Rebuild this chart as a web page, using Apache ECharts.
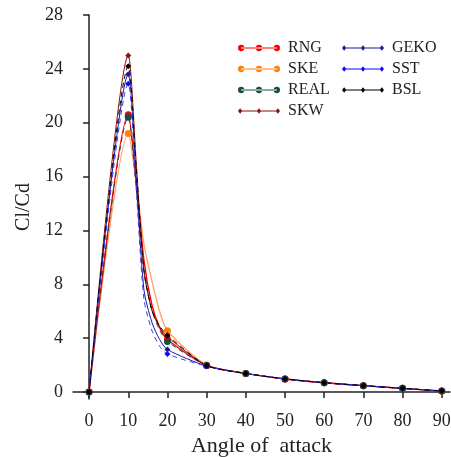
<!DOCTYPE html>
<html>
<head>
<meta charset="utf-8">
<script src="https://cdn.jsdelivr.net/npm/echarts@6/dist/echarts.min.js"></script>
<style>
  html, body { margin: 0; padding: 0; background: #fff; }
  #chart { width: 451px; height: 457px; }
</style>
</head>
<body>
<div id="chart"></div>
<script>
// angle of attack (curve read at extra angles between 10 and 20, markers only every 10)
var angles = [0, 10, 12, 14, 16, 18, 20, 30, 40, 50, 60, 70, 80, 90];
var markAngles = [0, 10, 20, 30, 40, 50, 60, 70, 80, 90];

// Cl/Cd values per turbulence model
var rng  = [0, 20.6, 15.8, 9.8, 6.5, 4.8, 3.9, 1.97, 1.38, 0.97, 0.69, 0.47, 0.27, 0.07];
var ske  = [0, 19.2, 15.6, 11.0, 8.3, 6.0, 4.55, 2.0, 1.38, 0.97, 0.69, 0.47, 0.27, 0.07];
var real = [0, 20.4, 15.2, 9.2, 6.1, 4.6, 3.75, 1.96, 1.38, 0.97, 0.69, 0.47, 0.27, 0.07];
var skw  = [0, 25.0, 17.2, 9.0, 6.1, 4.8, 4.1, 1.97, 1.38, 0.97, 0.69, 0.47, 0.27, 0.07];
var geko = [0, 23.6, 16.0, 7.6, 5.2, 3.9, 3.15, 1.93, 1.38, 0.97, 0.69, 0.47, 0.27, 0.07];
var sst  = [0, 22.9, 15.2, 6.9, 4.6, 3.4, 2.82, 1.92, 1.38, 0.97, 0.69, 0.47, 0.27, 0.07];
var bsl  = [0, 24.2, 16.8, 9.0, 6.1, 4.9, 4.22, 1.97, 1.38, 0.97, 0.69, 0.47, 0.27, 0.07];

var xTicks = [0, 10, 20, 30, 40, 50, 60, 70, 80, 90];
var yTicks = [0, 4, 8, 12, 16, 20, 24, 28];

var font = 'Liberation Serif';

function pairs(vals) {
    return angles.map(function (a, i) { return [a, vals[i]]; });
}

// legend icons: line with three dots / three diamonds
var dotIcon = 'path://M0,3a3,3 0 1,0 6,0a3,3 0 1,0 -6,0zM17,3a3,3 0 1,0 6,0a3,3 0 1,0 -6,0zM34,3a3,3 0 1,0 6,0a3,3 0 1,0 -6,0zM3,2.5h34v1h-34z';
var diaIcon = 'path://M0.5,3l2,-2.5l2,2.5l-2,2.5zM18,3l2,-2.5l2,2.5l-2,2.5zM35.5,3l2,-2.5l2,2.5l-2,2.5zM2.5,2.6h35v0.8h-35z';

function mk(name, data, color, lineColor, symbol, size, width, type) {
    return {
        name: name,
        type: 'line',
        smooth: 0.25,
        data: pairs(data),
        symbol: function (v) {
            return markAngles.indexOf(v[0]) >= 0 ? symbol : 'none';
        },
        symbolSize: size,
        itemStyle: { color: color },
        lineStyle: { color: lineColor, width: width, type: type },
        z: 3
    };
}

var legendText = { fontFamily: font, fontSize: 16, color: '#222', padding: [0, 0, 0, 3] };

var chart = echarts.init(document.getElementById('chart'));
chart.setOption({
    animation: false,
    backgroundColor: '#fff',
    grid: { left: 73, right: 1, top: 15, bottom: 58, outerBoundsMode: 'none', containLabel: false },
    legend: [
        {
            orient: 'vertical', left: 233, top: 35, itemGap: 5,
            itemWidth: 42, itemHeight: 8,
            textStyle: legendText,
            data: [
                { name: 'RNG', icon: dotIcon },
                { name: 'SKE', icon: dotIcon },
                { name: 'REAL', icon: dotIcon },
                { name: 'SKW', icon: diaIcon }
            ]
        },
        {
            orient: 'vertical', left: 337, top: 35, itemGap: 5,
            itemWidth: 42, itemHeight: 8,
            textStyle: legendText,
            data: [
                { name: 'GEKO', icon: diaIcon },
                { name: 'SST', icon: diaIcon },
                { name: 'BSL', icon: diaIcon }
            ]
        }
    ],
    xAxis: {
        type: 'value',
        min: -4.1, max: 92.1,
        name: 'Angle of  attack',
        nameLocation: 'middle',
        nameGap: 36,
        nameTextStyle: { fontFamily: font, fontSize: 22, color: '#222' },
        splitLine: { show: false },
        axisLine: { lineStyle: { color: '#222', width: 1.5 } },
        axisTick: { customValues: xTicks, length: 6, lineStyle: { color: '#222', width: 1.5 } },
        axisLabel: { customValues: xTicks, fontFamily: font, fontSize: 18, color: '#222', margin: 13 }
    },
    yAxis: {
        type: 'value',
        min: -0.52, max: 28,
        name: 'Cl/Cd',
        nameLocation: 'middle',
        nameGap: 29,
        nameTextStyle: { fontFamily: font, fontSize: 20, color: '#222' },
        splitLine: { show: false },
        axisLine: { show: true, lineStyle: { color: '#222', width: 1.5 } },
        axisTick: { show: true, customValues: yTicks, length: 6, lineStyle: { color: '#222', width: 1.5 } },
        axisLabel: { customValues: yTicks, fontFamily: font, fontSize: 18, color: '#222', margin: 10 }
    },
    series: [
        mk('SKE', ske, '#ff7f0e', '#ffa366', 'circle', 7, 1.3, 'solid'),
        mk('RNG', rng, '#ff0000', '#ff0000', 'circle', 7, 1.4, 'solid'),
        mk('REAL', real, '#1b4d48', '#1b4d48', 'circle', 7, 1, [5, 4]),
        mk('SKW', skw, '#8b1010', '#8b1010', 'diamond', 6, 1, 'solid'),
        mk('GEKO', geko, '#1a1a99', '#1a1a99', 'diamond', 6, 1, 'solid'),
        mk('SST', sst, '#0a0aff', '#3a3aff', 'diamond', 6, 1, [5, 4]),
        mk('BSL', bsl, '#000000', '#000000', 'diamond', 6, 1, [5, 4])
    ]
});
</script>
</body>
</html>
